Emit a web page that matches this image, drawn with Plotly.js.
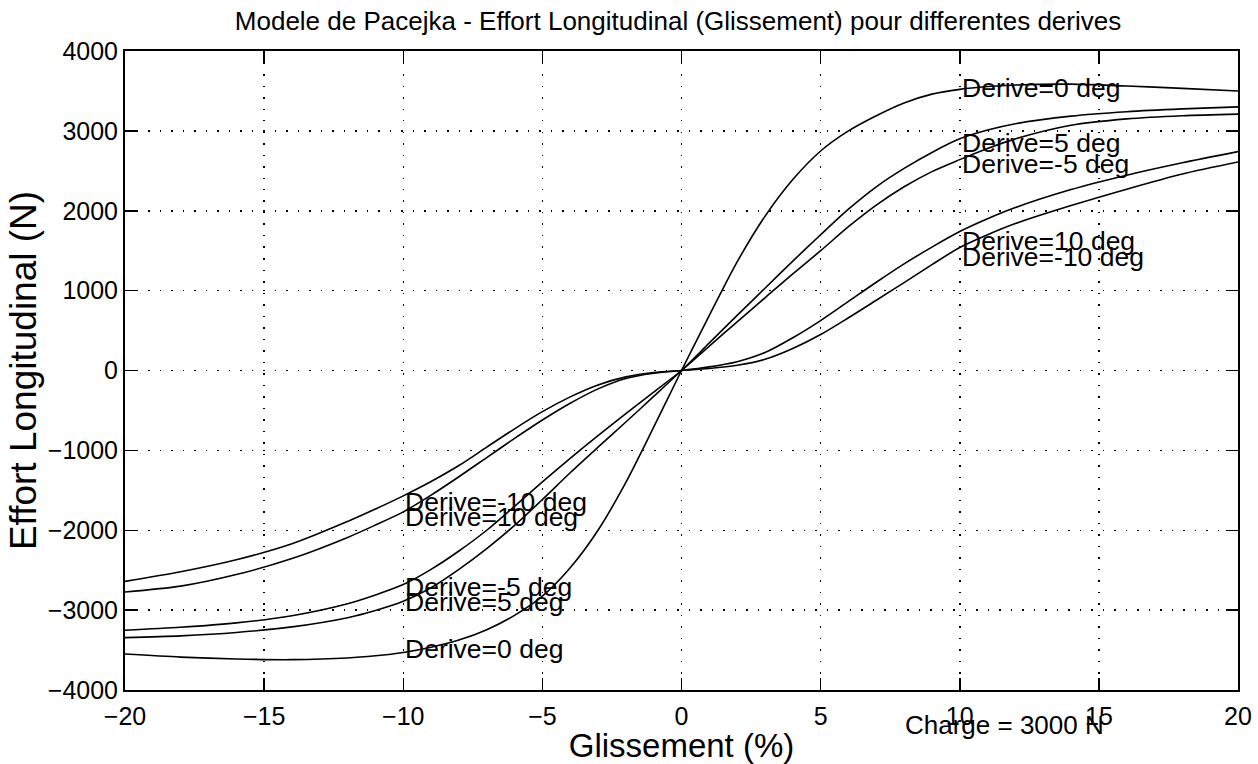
<!DOCTYPE html>
<html>
<head>
<meta charset="utf-8">
<script src="https://cdn.plot.ly/plotly-3.0.1.min.js"></script>
<style>
  html, body { margin: 0; padding: 0; background: #fff; }
  #chart { width: 1258px; height: 764px; }
</style>
</head>
<body>
<div id="chart"></div>
<script>
// ---- data ----
const slip = [-20,-18,-16,-14,-12,-11,-10,-9,-8,-7,-6,-5,-4,-3,-2,-1,0,1,2,3,4,5,6,7,8,9,10,11,12,14,16,18,20];

const forceDerive0 = [-3550,-3588,-3612,-3620,-3600,-3572,-3530,-3465,-3375,-3245,-3065,-2825,-2470,-2000,-1400,-710,
  0, 690,1360,1930,2390,2748,3000,3190,3350,3460,3520,3555,3575,3585,3562,3532,3500];

const forceDerive5 = [-3344,-3322,-3280,-3210,-3095,-3005,-2890,-2720,-2490,-2230,-1940,-1615,-1280,-960,-645,-325,
  0, 345,690,1030,1370,1700,2020,2300,2530,2730,2900,3010,3090,3185,3240,3275,3300];

const forceDeriveM5 = [-3252,-3215,-3160,-3070,-2920,-2810,-2680,-2490,-2260,-2000,-1700,-1395,-1100,-815,-540,-270,
  0, 305,610,910,1210,1500,1800,2070,2300,2490,2640,2780,2900,3070,3150,3190,3210];

const forceDerive10 = [-2773,-2700,-2555,-2355,-2090,-1935,-1770,-1560,-1330,-1090,-850,-620,-410,-230,-100,-35,
  0, 45,110,225,410,625,865,1105,1335,1545,1740,1900,2040,2265,2445,2600,2740];

const forceDeriveM10 = [-2640,-2520,-2370,-2170,-1890,-1735,-1570,-1390,-1190,-960,-730,-515,-330,-180,-80,-25,
  0, 25,65,140,275,450,660,880,1100,1325,1540,1700,1840,2065,2270,2460,2610];

const seriesNames = ['Derive=0 deg','Derive=5 deg','Derive=-5 deg','Derive=10 deg','Derive=-10 deg'];
const seriesValues = [forceDerive0, forceDerive5, forceDeriveM5, forceDerive10, forceDeriveM10];

const xTicks = [-20,-15,-10,-5,0,5,10,15,20];
const yTicks = [-4000,-3000,-2000,-1000,0,1000,2000,3000,4000];

const titleText = 'Modele de Pacejka - Effort Longitudinal (Glissement) pour differentes derives';
const xTitle = 'Glissement (%)';
const yTitle = 'Effort Longitudinal (N)';
const chargeText = 'Charge = 3000 N';

// ---- drawing ----
const FONT = '"Liberation Sans", Arial, Helvetica, sans-serif';

const traces = seriesValues.map((vals, i) => ({
  type: 'scatter',
  mode: 'lines',
  x: slip,
  y: vals,
  name: seriesNames[i],
  line: { color: '#000', width: 1.6, shape: 'spline', smoothing: 0.8 },
  hoverinfo: 'skip'
}));

// curve labels (text positions, data units)
const labelSpecs = [
  { t: 'Derive=0 deg',   x: 10,  y: 3537 },
  { t: 'Derive=5 deg',   x: 10,  y: 2843 },
  { t: 'Derive=-5 deg',  x: 10,  y: 2581 },
  { t: 'Derive=10 deg',  x: 10,  y: 1618 },
  { t: 'Derive=-10 deg', x: 10,  y: 1418 },
  { t: 'Derive=-10 deg', x: -10, y: -1644 },
  { t: 'Derive=10 deg',  x: -10, y: -1831 },
  { t: 'Derive=-5 deg',  x: -10, y: -2706 },
  { t: 'Derive=5 deg',   x: -10, y: -2894 },
  { t: 'Derive=0 deg',   x: -10, y: -3481 }
];

const annotations = labelSpecs.map(s => ({
  text: s.t, x: s.x, y: s.y, xref: 'x', yref: 'y',
  xanchor: 'left', yanchor: 'middle', showarrow: false,
  font: { family: FONT, size: 26.5, color: '#000' }
}));
annotations.push({
  text: chargeText, x: 11.6, y: -0.054, xref: 'x', yref: 'paper',
  xanchor: 'center', yanchor: 'middle', showarrow: false,
  font: { family: FONT, size: 26, color: '#000' }
});

const axisCommon = {
  ticks: 'inside', ticklen: 12, tickwidth: 1.5, tickcolor: '#000',
  showline: true, linecolor: '#000', linewidth: 2, mirror: 'ticks',
  showgrid: true, gridcolor: '#000', gridwidth: 1.5, griddash: '1.5px,10px',
  zeroline: false, tickfont: { family: FONT, size: 25, color: '#000' },
  exponentformat: 'none', separatethousands: false, fixedrange: true
};

const layout = {
  width: 1258, height: 764,
  margin: { l: 125, r: 20, t: 51, b: 74, pad: 0 },
  paper_bgcolor: '#fff', plot_bgcolor: '#fff',
  font: { family: FONT, color: '#000', size: 24 },
  showlegend: false,
  title: {
    text: titleText,
    font: { family: FONT, size: 26, color: '#000' },
    xref: 'container', x: 678 / 1258, xanchor: 'center',
    yref: 'container', y: 1 - 21 / 764, yanchor: 'middle'
  },
  xaxis: Object.assign({}, axisCommon, {
    range: [-20, 20], tickvals: xTicks, ticklabelstandoff: 3,
    title: { text: xTitle, font: { family: FONT, size: 33, color: '#000' }, standoff: 0 }
  }),
  yaxis: Object.assign({}, axisCommon, {
    range: [-4000, 4000], tickvals: yTicks,
    title: { text: yTitle, font: { family: FONT, size: 37, color: '#000' }, standoff: 0 }
  }),
  annotations: annotations
};

Plotly.newPlot('chart', traces, layout, { displayModeBar: false, staticPlot: true });
</script>
</body>
</html>
